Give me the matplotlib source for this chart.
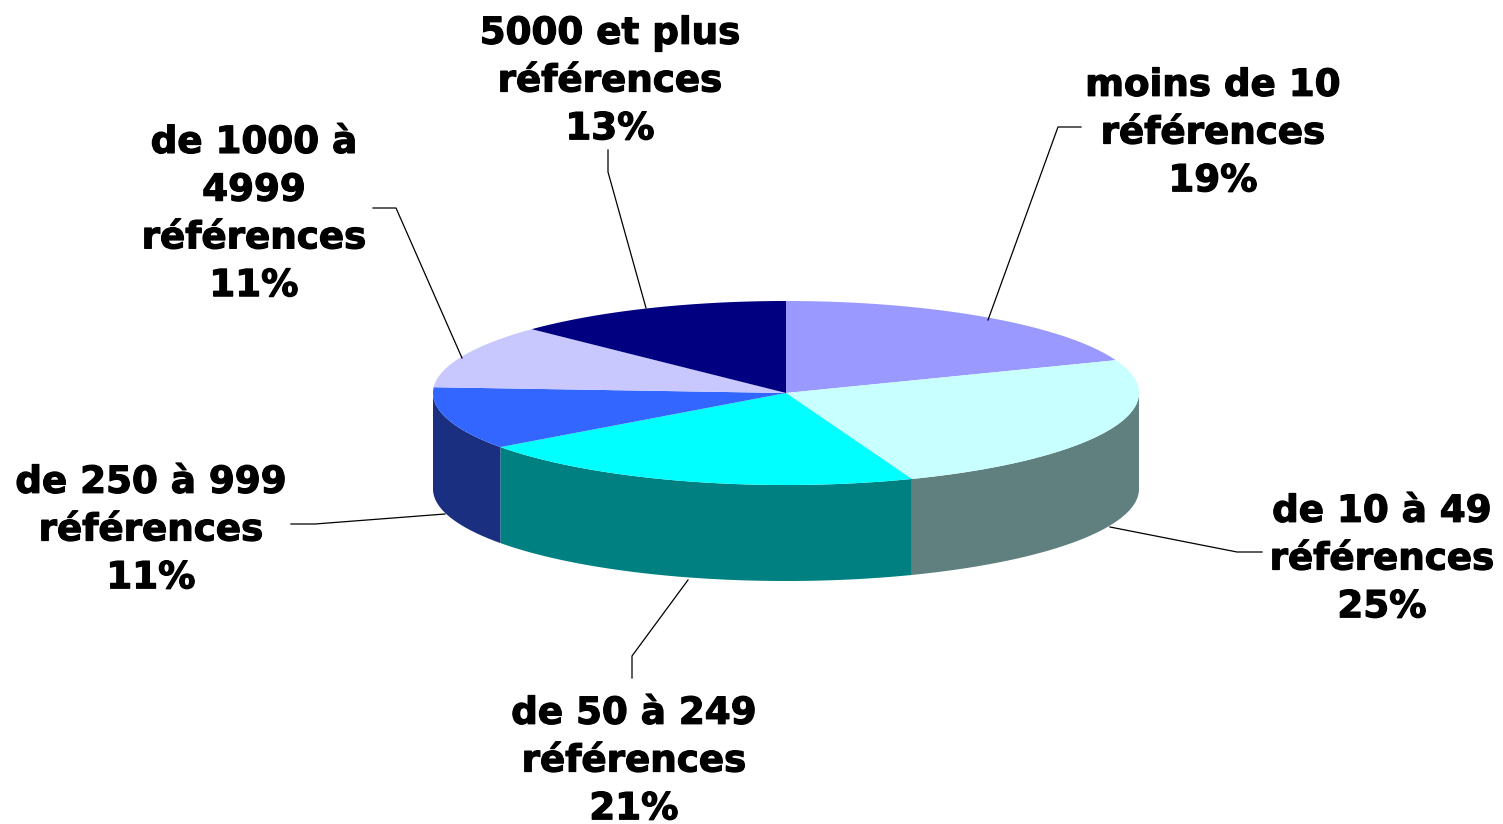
#!/usr/bin/env python
import numpy as np
import matplotlib
matplotlib.use("Agg")
import matplotlib.pyplot as plt
import matplotlib.patheffects as pe

labels = ["moins de 10\nréférences", "de 10 à 49\nréférences", "de 50 à 249\nréférences",
          "de 250 à 999\nréférences", "de 1000 à\n4999\nréférences", "5000 et plus\nréférences"]
percents = [19, 25, 21, 11, 11, 13]
# slice sizes as seen on the picture, the labels are rounded
values = [19.2, 25.0, 20.8, 11.0, 11.2, 12.8]
top_colors = ["#9999ff", "#c8ffff", "#00ffff", "#3366ff", "#c8c8ff", "#000080"]
side_colors = ["#6a6aa8", "#608080", "#008080", "#1a2f80", "#7f7fa8", "#000050"]

# label centres, and leader lines (in pixels of the original picture)
label_pos = [(1213, 133), (1382, 559), (634, 761), (151, 530), (254, 214), (610, 81)]
leaders = [([1081, 1058, 988], [127, 127, 320]),
           ([1262, 1237, 1110], [552, 552, 527]),
           ([632, 632, 688], [678, 656, 580]),
           ([291, 315, 445], [524, 524, 514]),
           ([373, 396, 462], [208, 208, 358]),
           ([608, 608, 646], [150, 172, 308])]

W, H = 1503, 824
cx, cy, rx, ry, depth = 786, 393, 353, 92, 96


def ell(t):
  return cx + rx * np.sin(t), cy - ry * np.cos(t)


fig = plt.figure(figsize=(W / 100, H / 100), dpi=100)
ax = fig.add_axes([0, 0, 1, 1])
ax.set_xlim(0, W)
ax.set_ylim(H, 0)
ax.axis("off")

edges = np.cumsum([0] + values) / 100.0 * 2 * np.pi

# sides first, only the front half of the rim shows
for i in range(len(values)):
  a = max(edges[i], np.pi / 2)
  b = min(edges[i + 1], 3 * np.pi / 2)
  if a >= b:
    continue
  t = np.linspace(a, b, 200)
  x, y = ell(t)
  ax.fill(np.r_[x, x[::-1]], np.r_[y, y[::-1] + depth], color=side_colors[i], lw=0)

# then the top
for i in range(len(values)):
  t = np.linspace(edges[i], edges[i + 1], 200)
  x, y = ell(t)
  ax.fill(np.r_[cx, x], np.r_[cy, y], color=top_colors[i], lw=0)

for (lx, ly) in leaders:
  ax.plot(lx, ly, color="black", lw=0.9)

for i in range(len(values)):
  txt = ax.text(label_pos[i][0], label_pos[i][1], labels[i] + "\n" + str(percents[i]) + "%",
                ha="center", va="center", fontsize=26.8, fontweight="bold",
                family="DejaVu Sans", linespacing=1.37, color="black")
  # the original font is heavier than DejaVu bold
  txt.set_path_effects([pe.withStroke(linewidth=0.9, foreground="black")])

plt.savefig("out.png", dpi=100)
